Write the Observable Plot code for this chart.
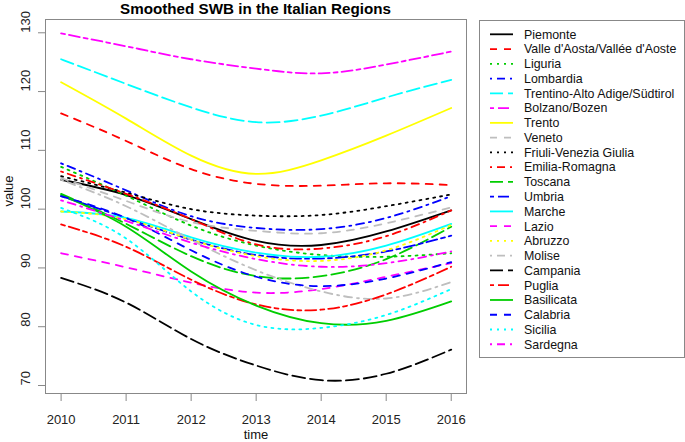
<!DOCTYPE html>
<html><head><meta charset="utf-8">
<script src="https://cdn.jsdelivr.net/npm/d3@7"></script>
<script src="https://cdn.jsdelivr.net/npm/@observablehq/plot@0.6"></script>
<style>
body{margin:0;background:#fff;font-family:"Liberation Sans",Arial,sans-serif;}
#wrap{position:relative;width:685px;height:442px;overflow:hidden;}
#title{position:relative;height:17px;width:421px;margin-left:45px;text-align:center;font-weight:bold;font-size:15.2px;line-height:17px;color:#000;white-space:nowrap;}
#legend{position:absolute;left:479px;top:20px;}
</style></head><body>
<div id="wrap"><div id="title">Smoothed SWB in the Italian Regions</div><div id="chart"></div><svg id="legend" width="206" height="339"></svg></div>
<script>
const years = [2010, 2011, 2012, 2013, 2014, 2015, 2016];
const yTicks = [70, 80, 90, 100, 110, 120, 130];
const regions = ["Piemonte","Valle d'Aosta/Vallée d'Aoste","Liguria","Lombardia","Trentino-Alto Adige/Südtirol","Bolzano/Bozen","Trento","Veneto","Friuli-Venezia Giulia","Emilia-Romagna","Toscana","Umbria","Marche","Lazio","Abruzzo","Molise","Campania","Puglia","Basilicata","Calabria","Sicilia","Sardegna"];

const piemonte   = [105.0, 102.4, 98.3, 94.6, 93.9, 96.2, 99.8];
const valleAosta = [116.3, 111.6, 106.8, 104.3, 104.0, 104.4, 104.1];
const liguria    = [107.2, 102.3, 97.2, 93.8, 92.2, 91.9, 92.5];
const lombardia  = [107.8, 103.2, 98.8, 96.8, 96.6, 98.5, 102.2];
const trentinoAA = [125.5, 121.3, 117.3, 114.8, 115.9, 119.0, 122.0];
const bolzano    = [129.9, 127.7, 125.5, 123.9, 123.1, 124.6, 126.8];
const trento     = [121.6, 115.4, 109.1, 106.0, 108.3, 112.5, 117.2];
const veneto     = [105.3, 101.4, 97.8, 96.3, 95.9, 97.6, 100.3];
const friuli     = [105.6, 102.8, 100.0, 98.9, 99.0, 100.5, 102.5];
const emilia     = [106.4, 102.6, 98.3, 94.0, 93.3, 95.4, 99.8];
const toscana    = [102.6, 97.5, 92.0, 88.6, 88.6, 91.5, 97.0];
const umbria     = [102.2, 98.5, 94.8, 92.2, 91.6, 92.8, 95.5];
const marche     = [99.6, 98.5, 95.2, 92.6, 91.9, 93.8, 97.5];
const lazio      = [92.5, 90.1, 87.5, 85.8, 86.4, 88.5, 90.8];
const abruzzo    = [99.6, 98.3, 94.8, 92.0, 91.2, 93.0, 97.3];
const molise     = [105.0, 100.5, 94.8, 89.6, 86.0, 84.8, 87.6];
const campania   = [88.3, 84.1, 77.9, 73.4, 70.9, 72.0, 76.1];
const puglia     = [97.4, 93.6, 88.0, 83.8, 82.9, 85.5, 90.2];
const basilicata = [102.4, 97.0, 89.4, 83.6, 80.6, 81.0, 84.3];
const calabria   = [102.2, 98.5, 93.0, 88.5, 86.9, 88.2, 91.0];
const sicilia    = [100.2, 95.0, 86.0, 80.3, 79.8, 82.0, 86.4];
const sardegna   = [101.5, 98.0, 94.3, 91.5, 90.2, 90.8, 92.8];

const seriesValues = [piemonte, valleAosta, liguria, lombardia, trentinoAA, bolzano, trento, veneto, friuli, emilia, toscana, umbria, marche, lazio, abruzzo, molise, campania, puglia, basilicata, calabria, sicilia, sardegna];

// R default palette and line types, cycled
const palette = ["#000000", "#FF0000", "#00CD00", "#0000FF", "#00FFFF", "#FF00FF", "#FFFF00", "#BEBEBE"];
const ltys = ["none", "7,7", "2,5", "2,5,8,5", "13,5", "4,4,11,4"];
const colorOf = i => palette[i % 8];
const dashOf = i => ltys[i % 6];

const marks = [];
regions.forEach((r, i) => {
  const data = years.map((yr, j) => ({year: yr, value: seriesValues[i][j]}));
  marks.push(Plot.line(data, {x: "year", y: "value", stroke: colorOf(i), strokeWidth: 1.8, strokeDasharray: dashOf(i) === "none" ? null : dashOf(i), curve: "natural"}));
});
marks.push(Plot.frame({stroke: "#888"}));
marks.push(Plot.axisX({ticks: years, tickSize: 8, tickPadding: 13, tickFormat: d => String(d), stroke: "#888", fill: "#222", fontSize: 13, label: null}));
marks.push(Plot.axisY({ticks: yTicks, tickSize: 7, tickFormat: () => "", stroke: "#888", label: null}));
marks.push(Plot.text(yTicks, {y: d => d, text: d => String(d), frameAnchor: "left", dx: -20, rotate: -90, fill: "#222", fontSize: 13}));
marks.push(Plot.text(["value"], {text: d => d, frameAnchor: "left", dx: -37, rotate: -90, fill: "#111", fontSize: 13}));
marks.push(Plot.text(["time"], {text: d => d, frameAnchor: "bottom", dy: 45, fill: "#111", fontSize: 13}));

const chart = Plot.plot({
  width: 685, height: 425,
  marginTop: 2, marginBottom: 49, marginLeft: 45, marginRight: 219,
  style: {fontFamily: "'Liberation Sans', Arial, sans-serif", fontSize: "13px", background: "#fff", overflow: "visible"},
  x: {type: "linear", domain: [2009.76, 2016.235]},
  y: {type: "linear", domain: [68.64, 132.26]},
  marks
});
document.getElementById("chart").appendChild(chart);

// legend
const lg = d3.select("#legend");
lg.append("rect").attr("x", 0.5).attr("y", 0.5).attr("width", 205).attr("height", 337).attr("fill", "#fff").attr("stroke", "#888");
regions.forEach((r, i) => {
  const yy = 14.3 + i * 14.76;
  const ln = lg.append("line").attr("x1", 11).attr("x2", 34).attr("y1", yy).attr("y2", yy)
    .attr("stroke", colorOf(i)).attr("stroke-width", 1.8);
  if (dashOf(i) !== "none") ln.attr("stroke-dasharray", dashOf(i));
  lg.append("text").attr("x", 45).attr("y", yy).attr("dy", "0.35em")
    .attr("font-size", 12.4).attr("fill", "#111").attr("font-family", "'Liberation Sans', Arial, sans-serif").text(r);
});
</script>
</body></html>
